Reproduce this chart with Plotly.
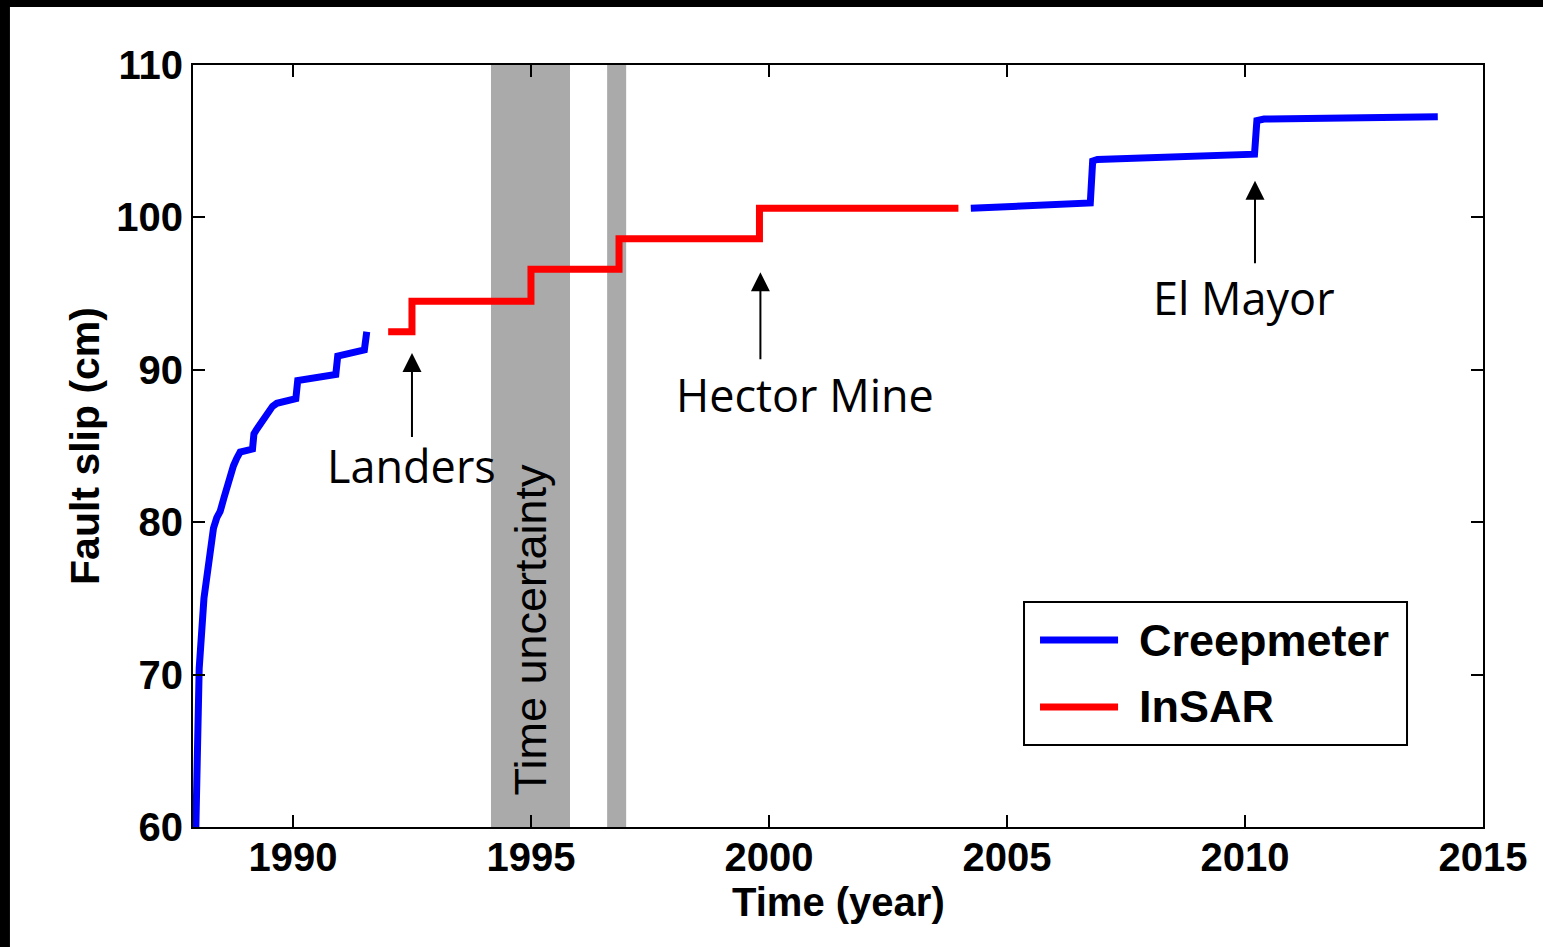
import plotly.graph_objects as go

# Creepmeter record, early period (after the 1987 event)
creep_early_years = [1987.96, 1987.99, 1988.03, 1988.13, 1988.22, 1988.33, 1988.40, 1988.47,
                     1988.55, 1988.61, 1988.68, 1988.75, 1988.82, 1988.89, 1989.15, 1989.18,
                     1989.24, 1989.31, 1989.40, 1989.48, 1989.57, 1989.66, 1990.06, 1990.10,
                     1990.90, 1990.94, 1991.50, 1991.55]
creep_early_slip = [60.0, 65.8, 70.4, 75.0, 77.3, 79.6, 80.3, 80.7,
                    81.6, 82.3, 83.0, 83.7, 84.2, 84.6, 84.8, 85.8,
                    86.1, 86.4, 86.9, 87.1, 87.6, 87.8, 88.1, 89.3,
                    89.7, 90.9, 91.3, 92.5]

# Creepmeter record, recent period
creep_late_years = [2004.24, 2006.75, 2006.80, 2006.90, 2010.20, 2010.25, 2010.40, 2012.50, 2014.05]
creep_late_slip = [100.6, 100.95, 103.7, 103.8, 104.15, 106.35, 106.45, 106.5, 106.6]

# InSAR-derived slip (stepwise)
insar_years = [1992.0, 1992.5, 1995.0, 1996.85, 1999.8, 2003.98]
insar_slip = [92.5, 94.5, 96.6, 98.6, 100.6, 100.6]

# Shaded intervals of time uncertainty
uncertainty_spans = [(1994.16, 1995.82), (1996.6, 1997.0)]

# Earthquake labels: (name, arrow x, arrow head, arrow tail, label x, label y)
events = [
    ("Landers", 1992.5, 91.1, 85.5, 1992.5, 83.75),
    ("Hector Mine", 1999.82, 96.4, 90.6, 2000.76, 88.35),
    ("El Mayor", 2010.21, 102.4, 96.9, 2009.98, 94.75),
]

x_ticks = [1990, 1995, 2000, 2005, 2010, 2015]
y_ticks = [60, 70, 80, 90, 100, 110]

BLUE = "#0000ff"
RED = "#ff0000"
GRAY = "#aaaaaa"
BOLD = dict(family="Liberation Sans, Arial, sans-serif", size=40, color="black", weight="bold")

fig = go.Figure()

creep_x = creep_early_years + [None] + creep_late_years
creep_y = creep_early_slip + [None] + creep_late_slip
fig.add_trace(go.Scatter(x=creep_x, y=creep_y, mode="lines", name="Creepmeter",
                         line=dict(color=BLUE, width=7), connectgaps=False, showlegend=False))
fig.add_trace(go.Scatter(x=insar_years, y=insar_slip, mode="lines", name="InSAR",
                         line=dict(color=RED, width=7, shape="hv"), showlegend=False))

shapes = []
for x0, x1 in uncertainty_spans:
    shapes.append(dict(type="rect", xref="x", yref="paper", x0=x0, x1=x1, y0=0, y1=1,
                       fillcolor=GRAY, line=dict(width=0), layer="below"))

# Legend box and keys
shapes.append(dict(type="rect", xref="paper", yref="paper", x0=0.6442, x1=0.9411,
                   y0=0.1076, y1=0.2953, line=dict(color="black", width=2),
                   fillcolor="white", layer="above"))
shapes.append(dict(type="line", xref="paper", yref="paper", x0=0.6566, x1=0.7171,
                   y0=0.2454, y1=0.2454, line=dict(color=BLUE, width=7)))
shapes.append(dict(type="line", xref="paper", yref="paper", x0=0.6566, x1=0.7171,
                   y0=0.1575, y1=0.1575, line=dict(color=RED, width=7)))

# Dark frame edges
shapes.append(dict(type="rect", xref="paper", yref="paper", x0=-0.2, x1=1.1,
                   y0=1.0761, y1=1.2, fillcolor="black", line=dict(width=0)))
shapes.append(dict(type="rect", xref="paper", yref="paper", x0=-0.2, x1=-0.1419,
                   y0=-0.2, y1=1.2, fillcolor="black", line=dict(width=0)))

annotations = []
for name, ax_x, head, tail, lx, ly in events:
    annotations.append(dict(x=ax_x, y=head, ax=ax_x, ay=tail, xref="x", yref="y",
                            axref="x", ayref="y", text="", showarrow=True,
                            arrowhead=2, arrowsize=1.9, arrowwidth=2, arrowcolor="black"))
    annotations.append(dict(x=lx, y=ly, xref="x", yref="y", text=name, showarrow=False,
                            font=dict(family="Open Sans, sans-serif", size=45, color="black"),
                            xanchor="center", yanchor="middle"))

annotations.append(dict(x=1994.98, y=72.9, xref="x", yref="y", text="Time uncertainty",
                        showarrow=False, textangle=-90,
                        font=dict(family="Liberation Sans, Arial, sans-serif", size=45, color="black"),
                        xanchor="center", yanchor="middle"))

annotations.append(dict(x=0.7318, y=0.2454, xref="paper", yref="paper", text="Creepmeter",
                        showarrow=False, xanchor="left", yanchor="middle",
                        font=dict(BOLD, size=45)))
annotations.append(dict(x=0.7318, y=0.1575, xref="paper", yref="paper", text="InSAR",
                        showarrow=False, xanchor="left", yanchor="middle",
                        font=dict(BOLD, size=45)))

# x-axis title
annotations.append(dict(x=0.5, y=-0.0985, xref="paper", yref="paper", text="Time (year)",
                        showarrow=False, xanchor="center", yanchor="middle",
                        font=dict(BOLD, size=40)))

axis_common = dict(showline=True, linecolor="black", linewidth=2, mirror="ticks",
                   ticks="inside", ticklen=12, tickwidth=2, tickcolor="black",
                   showgrid=False, zeroline=False, tickfont=BOLD)

fig.update_layout(
    width=1543, height=947,
    margin=dict(l=193, r=60, t=65, b=120),
    paper_bgcolor="white", plot_bgcolor="white",
    shapes=shapes, annotations=annotations,
    xaxis=dict(range=[1987.9, 2015.0], tickvals=x_ticks, ticktext=[str(t) for t in x_ticks],
               ticklabelstandoff=-6, **axis_common),
    yaxis=dict(range=[60, 110], tickvals=y_ticks, ticktext=[str(t) for t in y_ticks],
               title=dict(text="Fault slip (cm)", font=dict(BOLD, size=41), standoff=4),
               **axis_common),
)

fig.write_html("out.html")
